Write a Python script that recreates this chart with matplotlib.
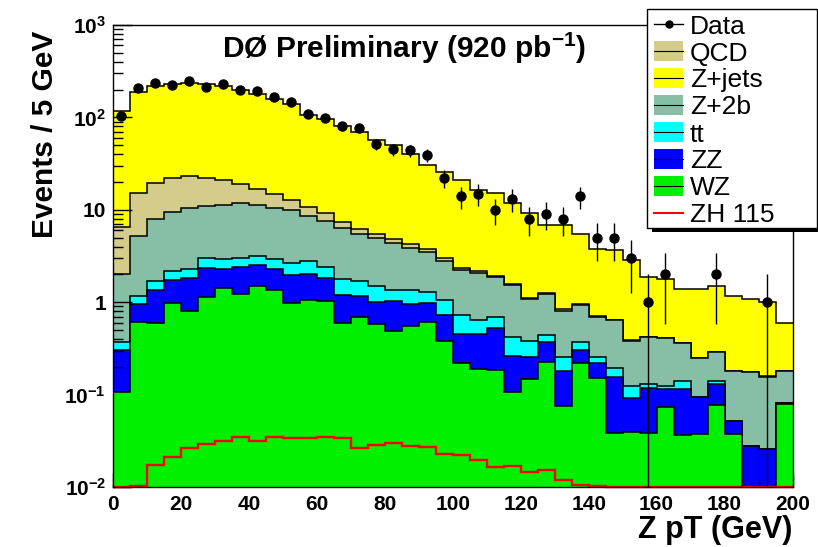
import numpy as np
import matplotlib
matplotlib.use("Agg")
import matplotlib.pyplot as plt
from matplotlib.patches import Rectangle
from matplotlib.lines import Line2D
from matplotlib.ticker import MultipleLocator, LogLocator, NullFormatter

plt.rcParams["font.family"] = ["Liberation Sans", "DejaVu Sans"]
plt.rcParams["mathtext.fontset"] = "custom"
plt.rcParams["mathtext.rm"] = "Liberation Sans"
plt.rcParams["mathtext.bf"] = "Liberation Sans:bold"
plt.rcParams["mathtext.default"] = "bf"

# ---- Z pT distribution, 5 GeV bins from 0 to 200 ----
bin_edges = np.arange(0, 205, 5)

data = [103, 206, 235, 223, 245, 211, 228, 197, 192, 166,
        146, 109, 99, 81, 76, 51, 45, 44, 39, 22,
        14, 15, 10, 13, 8, 9, 8, 14, 5, 5,
        3, 1, 2, 0, 0, 2, 0, 0, 1, 0]

wz = [0.107, 0.605, 0.596, 0.98, 0.81, 1.15, 1.42, 1.23, 1.49, 1.37,
      0.974, 1.06, 1.04, 0.591, 0.687, 0.581, 0.492, 0.557, 0.606, 0.383,
      0.218, 0.189, 0.186, 0.107, 0.147, 0.223, 0.0744, 0.2195, 0.150, 0.0388,
      0.0395, 0.0382, 0.0737, 0.0363, 0.0373, 0.0769, 0.0373, 0.0, 0.0, 0.0788]

zz = [0.196, 0.352, 0.764, 0.78, 1.03, 1.18, 0.84, 1.16, 1.04, 0.93,
      1.016, 0.97, 0.79, 0.619, 0.493, 0.419, 0.548, 0.401, 0.368, 0.351,
      0.232, 0.264, 0.34, 0.156, 0.11, 0.145, 0.107, 0.0835, 0.0695, 0.118,
      0.0525, 0.079, 0.041, 0.078, 0.058, 0.053, 0.015, 0.0278, 0.0256, 0.002]

ttbar = [0.064, 0.223, 0.33, 0.39, 0.46, 0.67, 0.64, 0.61, 0.67, 0.65,
         0.65, 0.75, 0.60, 0.58, 0.53, 0.49, 0.32, 0.40, 0.31, 0.31,
         0.27, 0.19, 0.16, 0.153, 0.126, 0.077, 0.072, 0.065, 0.034, 0.039,
         0.033, 0.0125, 0.01, 0.026, 0.0, 0.009, 0.0, 0.0, 0.0, 0.0]

z2b = [1.66, 3.97, 6.31, 7.25, 8.1, 8.0, 8.3, 8.8, 8.2, 7.45,
       7.21, 5.7, 5.12, 4.55, 3.70, 3.49, 3.0, 2.52, 2.23, 1.74,
       1.50, 1.44, 1.17, 1.124, 0.702, 0.785, 0.558, 0.574, 0.437, 0.439,
       0.26, 0.287, 0.285, 0.221, 0.153, 0.148, 0.129, 0.147, 0.131, 0.10]

qcd = [4.47, 10.05, 11.5, 12.7, 12.6, 11.3, 10.0, 7.4, 5.4, 4.4,
       3.05, 2.22, 1.67, 1.02, 0.82, 0.52, 0.42, 0.41, 0.27, 0.24,
       0.13, 0.07, 0.08, 0.04, 0.015, 0.02, 0.027, 0.016, 0.02, 0.01,
       0.002, 0.003, 0.002, 0.002, 0.001, 0.002, 0.001, 0.001, 0.001, 0.001]

zjets = [110.5, 170.8, 198.5, 206.9, 210.0, 206.7, 196.8, 177.8, 164.2, 144.2,
         126.1, 96.3, 85.8, 72.6, 62.8, 51.1, 46.0, 35.6, 26.7, 22.6,
         18.85, 14.35, 13.26, 10.22, 8.12, 5.64, 5.93, 4.54, 3.07, 3.015,
         2.49, 1.44, 1.378, 1.036, 1.13, 1.19, 0.978, 0.909, 0.842, 0.414]

zh115 = [0.0101, 0.0103, 0.0172, 0.0211, 0.0267, 0.029, 0.0316, 0.0348, 0.0316, 0.0351,
         0.0343, 0.0343, 0.0348, 0.0343, 0.0267, 0.0285, 0.0303, 0.0278, 0.0272, 0.0226,
         0.0221, 0.0196, 0.0166, 0.0169, 0.0147, 0.0153, 0.0119, 0.0104, 0.0102, 0.0101,
         0.0101, 0.0101, 0.0101, 0.0101, 0.0101, 0.0101, 0.0101, 0.0101, 0.0101, 0.0101]

# stack order, bottom to top
stack_names = ["WZ", "ZZ", "tt", "Z+2b", "QCD", "Z+jets"]
stack_vals = [wz, zz, ttbar, z2b, qcd, zjets]
stack_colors = ["#00f000", "#0000ff", "#00ffff", "#86bfa6", "#d3cc8b", "#ffff00"]

W, H = 818, 547
fig = plt.figure(figsize=(W / 100, H / 100), dpi=100)


def fx(px):
    return px / W


def fy(py):
    return 1 - py / H


ax = fig.add_axes([fx(113), fy(487), fx(792.5) - fx(113), fy(25) - fy(487)])
ax.set_yscale("log")
ax.set_xlim(0, 200)
ax.set_ylim(1e-2, 1e3)

cum = np.cumsum(np.array(stack_vals, dtype=float), axis=0)
for k in reversed(range(len(stack_vals))):
    top = np.clip(cum[k], 1e-5, None)
    ax.stairs(top, bin_edges, baseline=1e-5, fill=True,
              color=stack_colors[k], lw=0, zorder=1 + 0.1 * (6 - k))
    ax.stairs(top, bin_edges, baseline=None, color="black", lw=1.1,
              zorder=1.05 + 0.1 * (6 - k))

ax.stairs(np.array(zh115), bin_edges, baseline=None, color="#ff0000",
          lw=1.7, zorder=3, clip_on=False)

counts = np.array(data, dtype=float)
centers = 0.5 * (bin_edges[:-1] + bin_edges[1:])
m = counts > 0
err = np.sqrt(counts[m])
lo = counts[m] - np.maximum(counts[m] - err, 1e-5)
hi = err
ax.errorbar(centers[m], counts[m], yerr=[lo, hi], fmt="o", color="black",
            ms=6.5, elinewidth=1.0, capsize=0, zorder=4)

# axes styling
for s in ax.spines.values():
    s.set_linewidth(1.0)
    s.set_zorder(5)
ax.xaxis.set_major_locator(MultipleLocator(20))
ax.xaxis.set_minor_locator(MultipleLocator(5))
ax.yaxis.set_minor_locator(LogLocator(base=10, subs=np.arange(2, 10)))
ax.yaxis.set_minor_formatter(NullFormatter())
ax.set_yticks([1e-2, 1e-1, 1, 10, 1e2, 1e3],
              labels=[r"$10^{-2}$", r"$10^{-1}$", "1", "10", r"$10^{2}$", r"$10^{3}$"])
ax.tick_params(axis="both", which="both", direction="in", top=False, right=False,
               width=1.0, labelsize=15)
ax.tick_params(axis="y", which="major", length=14, pad=5)
ax.tick_params(axis="y", which="minor", length=7)
ax.tick_params(axis="x", which="major", length=10, pad=6)
ax.tick_params(axis="x", which="minor", length=5)
for lab in ax.get_xticklabels() + ax.get_yticklabels():
    lab.set_fontweight("bold")

ax.set_xlabel("Z pT (GeV)", fontsize=22, fontweight="bold", loc="right")
ax.xaxis.set_label_coords(1.0, -(515 - 487) / 462)
ax.set_ylabel("Events / 5 GeV", fontsize=21.5, fontweight="bold", va="center", ha="center")
ax.yaxis.set_label_coords((45 - 113) / 679.5, (487 - 134) / 462)

fig.text(fx(222), fy(58), r"DØ Preliminary (920 pb$^{-1}$)", fontsize=21.5,
         fontweight="bold", ha="left", va="baseline")

# legend box with ROOT-style shadow
lx0, lx1, ly0, ly1 = 647, 817, 9, 228
fig.add_artist(Rectangle((fx(lx0 + 5), fy(ly1 + 4)), fx(lx1) - fx(lx0), fy(ly0) - fy(ly1),
                         transform=fig.transFigure, facecolor="black", edgecolor="none",
                         zorder=19))
fig.add_artist(Rectangle((fx(lx0), fy(ly1)), fx(lx1) - fx(lx0), fy(ly0) - fy(ly1),
                         transform=fig.transFigure, facecolor="white", edgecolor="black",
                         lw=1.0, zorder=20))

entries = [("Data", "data", "black"),
           ("QCD", "fill", stack_colors[4]),
           ("Z+jets", "fill", stack_colors[5]),
           ("Z+2b", "fill", stack_colors[3]),
           ("tt", "fill", stack_colors[2]),
           ("ZZ", "fill", stack_colors[1]),
           ("WZ", "fill", stack_colors[0]),
           ("ZH 115", "line", "#ff0000")]
hx0, hx1 = 654, 683
for i, (label, kind, color) in enumerate(entries):
    cy = 24 + 27.0 * i
    if kind == "fill":
        fig.add_artist(Rectangle((fx(hx0), fy(cy + 10)), fx(hx1) - fx(hx0), fy(cy - 10) - fy(cy + 10),
                                 transform=fig.transFigure, facecolor=color,
                                 edgecolor="none", zorder=21))
        fig.add_artist(Line2D([fx(hx0), fx(hx1)], [fy(cy), fy(cy)], color="black", lw=0.8,
                              transform=fig.transFigure, zorder=22))
    elif kind == "data":
        fig.add_artist(Line2D([fx(hx0), fx(hx1)], [fy(cy), fy(cy)], color="black", lw=1.0,
                              transform=fig.transFigure, zorder=22))
        fig.add_artist(Line2D([fx((hx0 + hx1) / 2)], [fy(cy)], color="black", marker="o",
                              ms=5, transform=fig.transFigure, zorder=22))
    else:
        fig.add_artist(Line2D([fx(hx0), fx(hx1)], [fy(cy), fy(cy)], color=color, lw=1.5,
                              transform=fig.transFigure, zorder=22))
    fig.text(fx(690), fy(cy + 9.5), label, fontsize=19, ha="left", va="baseline", zorder=23)

fig.savefig("out.png", dpi=100)
